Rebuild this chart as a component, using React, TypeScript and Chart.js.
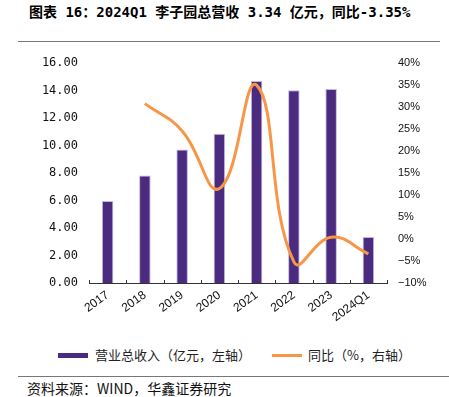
import React, { useEffect, useRef } from "react";
import { Chart, registerables } from "chart.js";

Chart.register(...registerables);

const categories = ["2017", "2018", "2019", "2020", "2021", "2022", "2023", "2024Q1"];
const revenue = [5.96, 7.83, 9.71, 10.86, 14.7, 14.03, 14.13, 3.34];
const yoy = [null, 30.8, 24.6, 11.5, 35.0, -5.2, 0.4, -3.35];
const leftTicks = { min: 0, max: 16, step: 2 };
const rightTicks = { min: -10, max: 40, step: 5 };

const PURPLE = "#4B2B80";
const ORANGE = "#F79646";

const xTickMarks = {
  id: "xTickMarks",
  afterDatasetsDraw(chart: any) {
    const x = chart.scales.x;
    const ctx = chart.ctx;
    const n = categories.length;
    ctx.save();
    ctx.strokeStyle = "#333";
    ctx.lineWidth = 1;
    for (let i = 0; i <= n; i++) {
      const px = Math.round(x.left + ((x.right - x.left) * i) / n) + 0.5;
      ctx.beginPath();
      ctx.moveTo(px, x.top);
      ctx.lineTo(px, x.top - 3);
      ctx.stroke();
    }
    ctx.restore();
  },
};

function ChartCanvas() {
  const ref = useRef<HTMLCanvasElement | null>(null);
  useEffect(() => {
    if (!ref.current) return;
    const chart = new Chart(ref.current, {
      type: "bar",
      data: {
        labels: categories,
        datasets: [
          {
            type: "line",
            label: "同比（%，右轴）",
            data: yoy as any,
            yAxisID: "y1",
            borderColor: ORANGE,
            borderWidth: 3,
            pointRadius: 0,
            tension: 0.45,
            fill: false,
            order: 0,
          } as any,
          {
            type: "bar",
            label: "营业总收入（亿元，左轴）",
            data: revenue,
            yAxisID: "y",
            backgroundColor: PURPLE,
            borderColor: "rgba(190,175,220,0.9)",
            borderWidth: 1,
            barPercentage: 0.31,
            categoryPercentage: 1,
            order: 1,
          },
        ],
      },
      options: {
        responsive: false,
        animation: false,
        layout: { padding: { top: 15, bottom: 0, left: 0, right: 0 } },
        plugins: {
          legend: { display: false },
          title: { display: false },
          tooltip: { enabled: false },
        },
        scales: {
          x: {
            grid: { display: false, drawTicks: false },
            border: { display: true, color: "#333", width: 1 },
            ticks: {
              font: { family: "'Liberation Sans', Arial, sans-serif", size: 12 },
              color: "#111",
              maxRotation: 36,
              minRotation: 36,
              padding: 5,
              autoSkip: false,
            },
            afterFit(scale: any) {
              scale.height = 57;
            },
          },
          y: {
            position: "left",
            min: leftTicks.min,
            max: leftTicks.max,
            grid: { display: false, drawTicks: false },
            border: { display: false },
            ticks: {
              stepSize: leftTicks.step,
              padding: 11,
              color: "#111",
              font: { family: "'DejaVu Sans Mono', monospace", size: 12 },
              callback: (v: any) => Number(v).toFixed(2),
            },
            afterFit(scale: any) {
              scale.width = 89;
            },
          },
          y1: {
            position: "right",
            min: rightTicks.min,
            max: rightTicks.max,
            grid: { display: false, drawTicks: false },
            border: { display: false },
            ticks: {
              stepSize: rightTicks.step,
              padding: 11,
              color: "#111",
              font: { family: "'Liberation Sans', Arial, sans-serif", size: 11 },
              callback: (v: any) => (Number(v) < 0 ? "\u2212" + Math.abs(Number(v)) : String(v)) + "%",
            },
            afterFit(scale: any) {
              scale.width = 62;
            },
          },
        },
      } as any,
      plugins: [xTickMarks],
    });
    return () => chart.destroy();
  }, []);
  return <canvas ref={ref} width={449} height={295} style={{ position: "absolute", left: 0, top: 45, width: 449, height: 295 }} />;
}

export default function App() {
  const cjk = "'Noto Sans CJK SC', sans-serif";
  return (
    <div style={{ position: "absolute", left: 0, top: 0, width: 449, height: 397, background: "#fff", overflow: "hidden" }}>
      <div
        style={{
          position: "absolute",
          left: 29,
          top: 4,
          fontFamily: "'DejaVu Sans Mono', 'Noto Sans CJK SC', sans-serif",
          fontWeight: "bold",
          fontSize: 14,
          lineHeight: "16px",
          whiteSpace: "nowrap",
          color: "#000",
        }}
      >
        图表 16：2024Q1 李子园总营收 3.34 亿元，同比-3.35%
      </div>
      <div style={{ position: "absolute", left: 18, top: 41, width: 422, height: 1, background: "#777" }} />
      <ChartCanvas />
      <div style={{ position: "absolute", left: 58, top: 353, width: 30, height: 5, background: PURPLE }} />
      <div
        style={{ position: "absolute", left: 95, top: 346, fontFamily: cjk, fontSize: 13, lineHeight: "18px", color: "#222", whiteSpace: "nowrap" }}
      >
        营业总收入（亿元，左轴）
      </div>
      <div style={{ position: "absolute", left: 272, top: 354, width: 30, height: 3, background: ORANGE }} />
      <div
        style={{ position: "absolute", left: 308, top: 346, fontFamily: cjk, fontSize: 13, lineHeight: "18px", color: "#222", whiteSpace: "nowrap" }}
      >
        同比（%，右轴）
      </div>
      <div style={{ position: "absolute", left: 18, top: 376, width: 431, height: 1, background: "#777" }} />
      <div
        style={{ position: "absolute", left: 27, top: 379, fontFamily: cjk, fontSize: 14, lineHeight: "18px", color: "#111", whiteSpace: "nowrap" }}
      >
        资料来源：WIND，华鑫证券研究
      </div>
    </div>
  );
}
